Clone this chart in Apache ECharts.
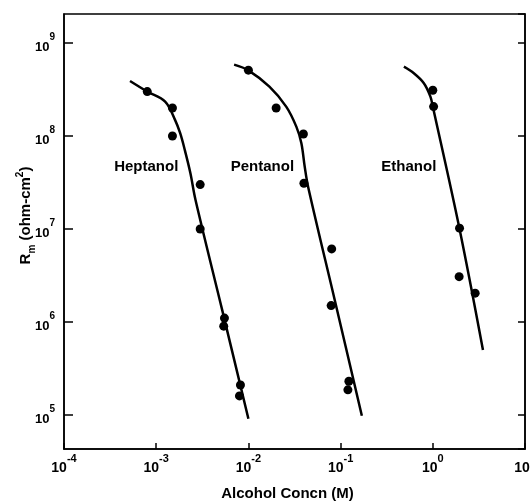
<!DOCTYPE html>
<html>
<head>
<meta charset="utf-8">
<script src="https://cdn.jsdelivr.net/npm/echarts@6/dist/echarts.min.js"></script>
<style>
html, body { margin: 0; padding: 0; background: #fff; }
#chart { width: 530px; height: 504px; }
</style>
</head>
<body>
<div id="chart"></div>
<script>
// 数据
const heptanolX = [8e-4, 1.5e-3, 1.5e-3, 3e-3, 3e-3, 5.5e-3, 5.4e-3, 8.2e-3, 8e-3];
const heptanolY = [3e8, 2e8, 1e8, 3e7, 1e7, 1.1e6, 9e5, 2.1e5, 1.6e5];
const pentanolX = [1e-2, 2e-2, 3.95e-2, 4e-2, 8e-2, 7.9e-2, 0.123, 0.12];
const pentanolY = [5.1e8, 2e8, 1.05e8, 3.1e7, 6.1e6, 1.5e6, 2.3e5, 1.86e5];
const ethanolX = [1.0, 1.02, 1.95, 1.93, 2.88];
const ethanolY = [3.1e8, 2.07e8, 1.02e7, 3.07e6, 2.04e6];

// 拟合曲线
const heptanolCurveX = [5.2e-4, 8e-4, 1.25e-3, 1.6e-3, 1.82e-3, 2.04e-3, 2.35e-3, 2.67e-3, 5.2e-3, 1.0e-2];
const heptanolCurveY = [3.9e8, 3.0e8, 2.34e8, 1.49e8, 1.07e8, 7.1e7, 3.97e7, 2.05e7, 1.34e6, 9.1e4];
const pentanolCurveX = [7.0e-3, 1.0e-2, 1.69e-2, 2.57e-2, 3.31e-2, 3.75e-2, 4.08e-2, 4.44e-2, 8.7e-2, 0.170];
const pentanolCurveY = [5.85e8, 5.08e8, 3.39e8, 2.07e8, 1.26e8, 8.4e7, 4.68e7, 2.85e7, 1.67e6, 9.8e4];
const ethanolCurveX = [0.486, 0.623, 0.80, 0.942, 1.0, 1.95, 3.5];
const ethanolCurveY = [5.56e8, 4.72e8, 3.69e8, 2.65e8, 2.07e8, 1.0e7, 5.0e5];

// 曲线标注
const labelNames = ['Heptanol', 'Pentanol', 'Ethanol'];
const labelX = [7.8e-4, 1.42e-2, 0.55];
const labelY = [4.7e7, 4.7e7, 4.7e7];

// 坐标轴范围
const xMin = 1e-4, xMax = 10;
const yMin = 4.3e4, yMax = 2.05e9;

const FONT = 'Liberation Sans';

function pairs(xs, ys) {
    return xs.map((x, i) => [x, ys[i]]);
}

function powerLabel(value) {
    const e = Math.round(Math.log10(value));
    return '{b|10}{s|' + (e < 0 ? '-' + (-e) : e) + '}';
}

const richPow = {
    b: { fontFamily: FONT, fontWeight: 'bold', fontSize: 14, color: '#000', lineHeight: 22, verticalAlign: 'bottom' },
    s: { fontFamily: FONT, fontWeight: 'bold', fontSize: 11, color: '#000', lineHeight: 22, verticalAlign: 'top' }
};
const richPowY = {
    b: { fontFamily: FONT, fontWeight: 'bold', fontSize: 13, color: '#000', lineHeight: 22, verticalAlign: 'bottom' },
    s: { fontFamily: FONT, fontWeight: 'bold', fontSize: 10, color: '#000', lineHeight: 22, verticalAlign: 'top' }
};

const chart = echarts.init(document.getElementById('chart'));

const dotStyle = { color: '#000', opacity: 1 };
const lineStyle = { color: '#000', width: 2.5 };

function curve(name, xs, ys) {
    return {
        name: name,
        type: 'line',
        data: pairs(xs, ys),
        showSymbol: false,
        smooth: 0.35,
        lineStyle: lineStyle,
        itemStyle: dotStyle,
        animation: false,
        z: 2
    };
}

function dots(name, xs, ys) {
    return {
        name: name,
        type: 'scatter',
        data: pairs(xs, ys),
        symbol: 'circle',
        symbolSize: 9,
        itemStyle: dotStyle,
        animation: false,
        z: 3
    };
}

const option = {
    backgroundColor: '#fff',
    animation: false,
    grid: {
        left: 64, right: 5, top: 14, bottom: 55,
        outerBoundsMode: 'none',
        containLabel: false,
        show: true, borderColor: '#000', borderWidth: 1.5
    },
    xAxis: {
        type: 'log',
        logBase: 10,
        min: xMin,
        max: xMax,
        name: 'Alcohol Concn (M)',
        nameLocation: 'middle',
        nameGap: 37,
        nameMoveOverlap: false,
        nameTextStyle: { fontFamily: FONT, fontWeight: 'bold', fontSize: 15, color: '#000', padding: [0, 14, 0, 0] },
        axisLine: { lineStyle: { color: '#000', width: 1.5 } },
        axisTick: { inside: true, length: 6, lineStyle: { color: '#000', width: 1.5 } },
        minorTick: { show: false },
        splitLine: { show: false },
        axisLabel: { formatter: powerLabel, rich: richPow, margin: 4, hideOverlap: false }
    },
    yAxis: [{
        type: 'log',
        logBase: 10,
        min: yMin,
        max: yMax,
        name: 'R{sub|m} (ohm-cm{sup|2})',
        nameLocation: 'middle',
        nameGap: 27,
        nameMoveOverlap: false,
        nameTextStyle: {
            fontFamily: FONT, fontWeight: 'bold', fontSize: 15, color: '#000',
            padding: [0, 0, 0, 32],
            rich: {
                sub: { fontFamily: FONT, fontWeight: 'bold', fontSize: 10, color: '#000', verticalAlign: 'bottom', lineHeight: 22 },
                sup: { fontFamily: FONT, fontWeight: 'bold', fontSize: 10, color: '#000', verticalAlign: 'top', lineHeight: 22 }
            }
        },
        axisLine: { lineStyle: { color: '#000', width: 1.5 } },
        axisTick: { inside: true, length: 9, lineStyle: { color: '#000', width: 1.5 } },
        splitLine: { show: false },
        axisLabel: { formatter: powerLabel, rich: richPowY, margin: 9, showMinLabel: false, showMaxLabel: false }
    }, {
        type: 'log',
        logBase: 10,
        min: yMin,
        max: yMax,
        position: 'right',
        axisLine: { show: true, lineStyle: { color: '#000', width: 1.5 } },
        axisTick: { inside: true, length: 7, lineStyle: { color: '#000', width: 1.5 } },
        splitLine: { show: false },
        axisLabel: { show: false }
    }],
    series: [
        curve('Heptanol curve', heptanolCurveX, heptanolCurveY),
        curve('Pentanol curve', pentanolCurveX, pentanolCurveY),
        curve('Ethanol curve', ethanolCurveX, ethanolCurveY),
        dots('Heptanol', heptanolX, heptanolY),
        dots('Pentanol', pentanolX, pentanolY),
        dots('Ethanol', ethanolX, ethanolY),
        {
            name: 'labels',
            type: 'scatter',
            data: labelNames.map((n, i) => ({ name: n, value: [labelX[i], labelY[i]] })),
            symbolSize: 0,
            itemStyle: { opacity: 1 },
            animation: false,
            label: {
                show: true,
                position: 'inside',
                formatter: '{b}',
                fontFamily: FONT,
                fontWeight: 'bold',
                fontSize: 15,
                color: '#000'
            }
        }
    ]
};

chart.setOption(option);
</script>
</body>
</html>
